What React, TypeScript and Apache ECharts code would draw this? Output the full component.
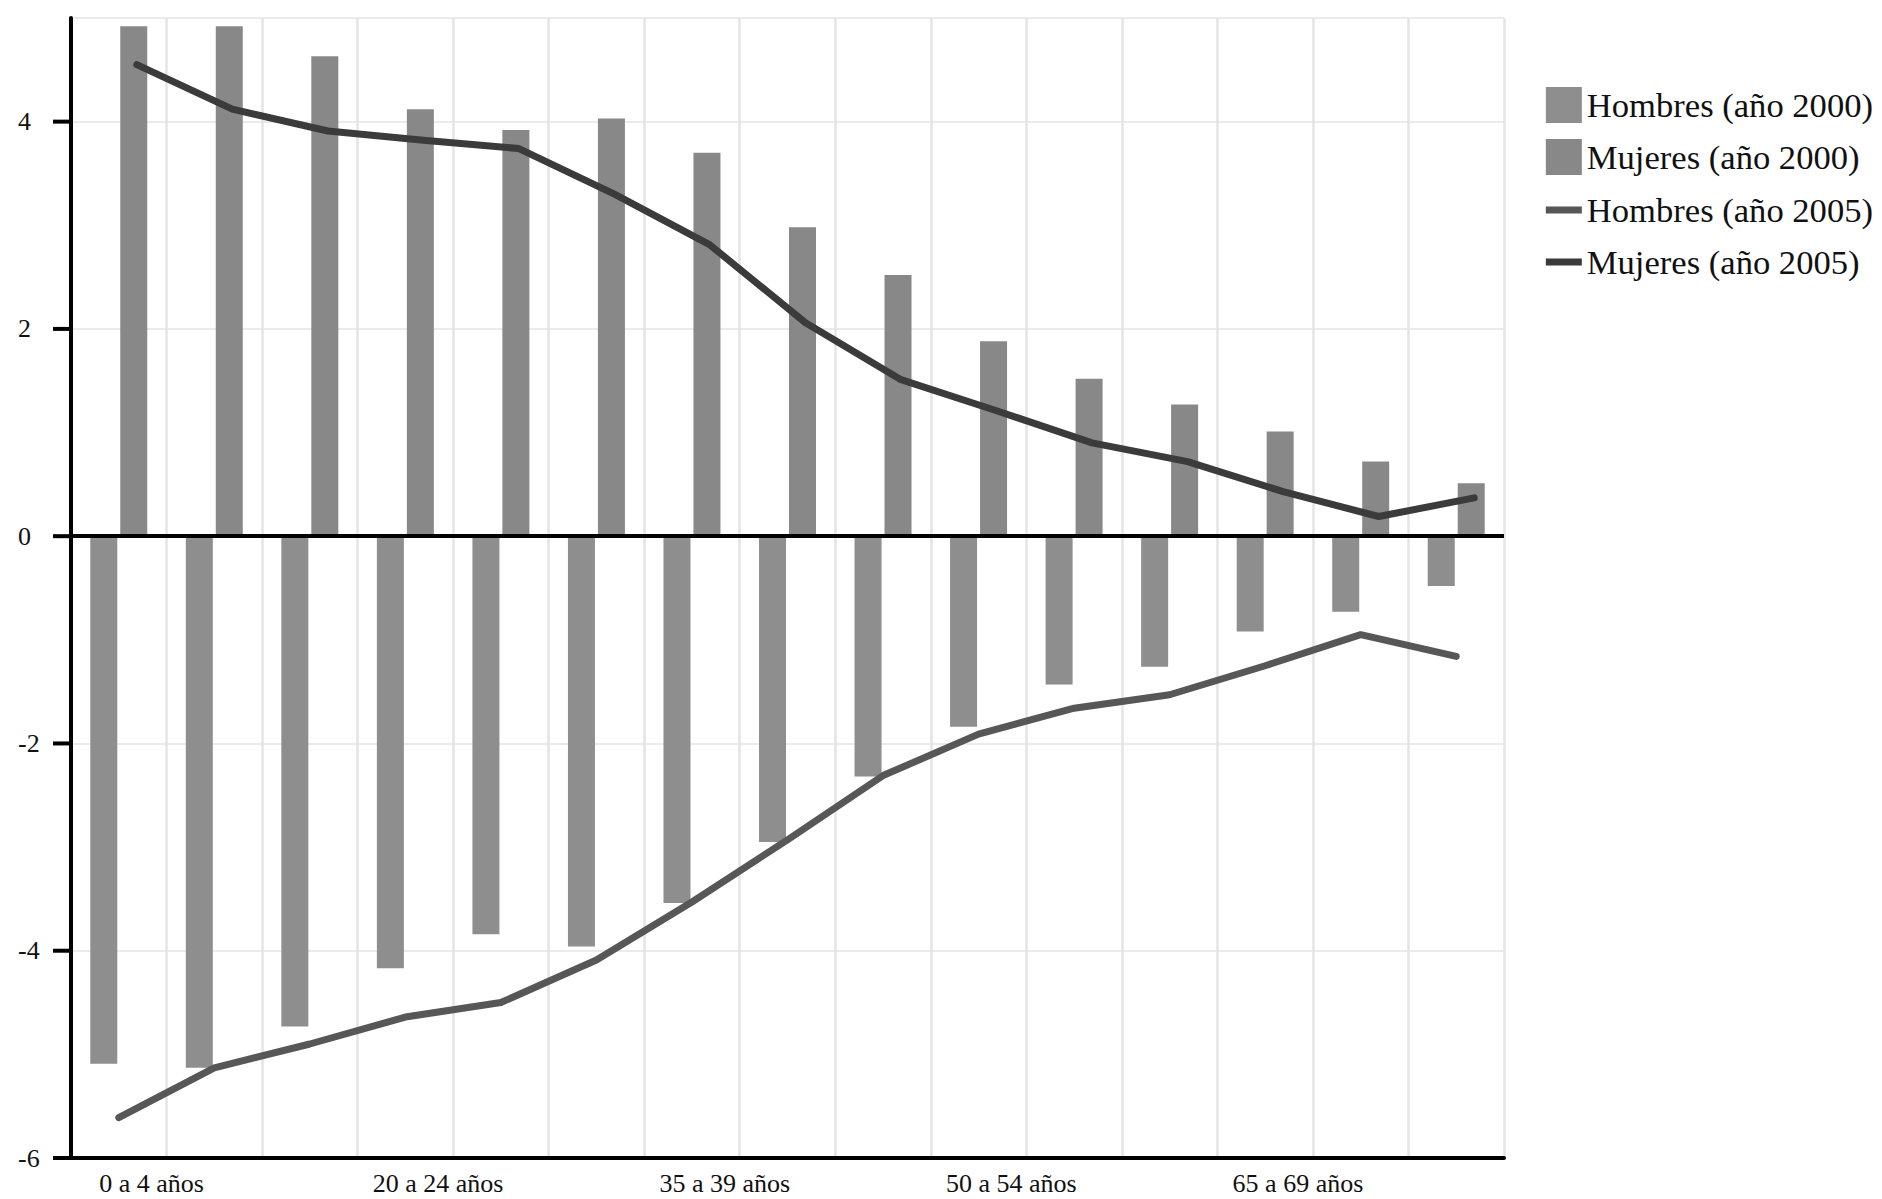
import React, { useEffect, useRef } from "react";
import * as echarts from "echarts";

const ageGroups = [
  "0 a 4 años", "5 a 9 años", "10 a 14 años", "15 a 19 años", "20 a 24 años",
  "25 a 29 años", "30 a 34 años", "35 a 39 años", "40 a 44 años", "45 a 49 años",
  "50 a 54 años", "55 a 59 años", "60 a 64 años", "65 a 69 años", "70 a 74 años",
];

const hombres2000 = [-5.09, -5.13, -4.73, -4.17, -3.84, -3.96, -3.54, -2.95, -2.32, -1.84, -1.43, -1.26, -0.92, -0.73, -0.48];
const mujeres2000 = [4.92, 4.92, 4.63, 4.12, 3.92, 4.03, 3.70, 2.98, 2.52, 1.88, 1.52, 1.27, 1.01, 0.72, 0.51];
const hombres2005 = [-5.61, -5.13, -4.90, -4.64, -4.50, -4.09, -3.53, -2.93, -2.31, -1.91, -1.66, -1.53, -1.25, -0.95, -1.16];
const mujeres2005 = [4.55, 4.12, 3.91, 3.82, 3.74, 3.30, 2.81, 2.06, 1.51, 1.21, 0.90, 0.72, 0.43, 0.19, 0.37];

const xTickLabels = ["0 a 4 años", "20 a 24 años", "35 a 39 años", "50 a 54 años", "65 a 69 años"];
const xTickSlots = [1, 4, 7, 10, 13];
const yTickValues = [-6, -4, -2, 0, 2, 4];

const seriesNames = ["Hombres (año 2000)", "Mujeres (año 2000)", "Hombres (año 2005)", "Mujeres (año 2005)"];

const FONT = "'Liberation Serif', 'DejaVu Serif', serif";
const Y_MIN = -6;
const Y_MAX = 5;
const Y_STEP = 2;
const GRID_LEFT = 71;
const TICK_LEN = 18;

export default function App() {
  const ref = useRef<HTMLDivElement>(null);
  useEffect(() => {
    if (!ref.current) return;
    const chart = echarts.init(ref.current, null, { renderer: "svg" });

    const labelAxisData: string[] = new Array(ageGroups.length + 1).fill("");
    xTickSlots.forEach((slot, i) => {
      labelAxisData[slot] = xTickLabels[i];
    });

    const legendText = { fontSize: 34.6, fontFamily: FONT, color: "#111", lineHeight: 36 };

    chart.setOption({
      animation: false,
      backgroundColor: "#fff",
      grid: [
        { left: GRID_LEFT, right: 378, top: 18, bottom: 41 },
        // same plot area, shifted so the women's 2005 line sits over the women's bars
        { left: GRID_LEFT + 18, right: 360, top: 18, bottom: 41 },
      ],
      legend: [
        {
          orient: "vertical",
          align: "left",
          right: 9,
          top: 87,
          padding: 0,
          itemWidth: 36,
          itemHeight: 36,
          itemGap: 16,
          itemTextGap: 19,
          icon: "rect",
          data: [seriesNames[0], seriesNames[1]],
          textStyle: legendText,
        },
        {
          orient: "vertical",
          align: "left",
          right: 9,
          top: 192,
          padding: 0,
          itemWidth: 36,
          itemHeight: 7,
          itemGap: 16,
          itemTextGap: 19,
          icon: "rect",
          data: [seriesNames[2], seriesNames[3]],
          textStyle: legendText,
        },
      ],
      xAxis: [
        {
          type: "category",
          gridIndex: 0,
          data: ageGroups,
          position: "bottom",
          boundaryGap: true,
          axisLine: { show: true, onZero: false, lineStyle: { color: "#000", width: 4 } },
          axisTick: { show: false },
          axisLabel: { show: false },
          splitLine: { show: true, interval: 0, lineStyle: { color: "#e4e4e4", width: 2.5 } },
        },
        {
          type: "category",
          gridIndex: 0,
          data: labelAxisData,
          position: "bottom",
          boundaryGap: false,
          axisLine: { show: false },
          axisTick: { show: false },
          splitLine: { show: false },
          axisLabel: {
            show: true,
            interval: 0,
            margin: 12,
            fontSize: 26,
            fontFamily: FONT,
            color: "#111",
            padding: [0, 30, 0, 0],
          },
        },
        {
          type: "category",
          gridIndex: 1,
          data: ageGroups,
          boundaryGap: true,
          show: false,
        },
      ],
      yAxis: [
        {
          type: "value",
          gridIndex: 0,
          position: "left",
          min: Y_MIN,
          max: Y_MAX,
          interval: Y_STEP,
          axisLine: { show: true, onZero: false, lineStyle: { color: "#000", width: 4 } },
          axisTick: { show: false },
          axisLabel: {
            show: true,
            showMaxLabel: false,
            align: "left",
            margin: 53,
            fontSize: 26,
            fontFamily: FONT,
            color: "#111",
          },
          splitLine: { show: true, lineStyle: { color: "#ebebeb", width: 2 } },
        },
        {
          type: "value",
          gridIndex: 1,
          min: Y_MIN,
          max: Y_MAX,
          interval: Y_STEP,
          show: false,
          splitLine: { show: false },
        },
      ],
      series: [
        {
          name: seriesNames[0],
          type: "bar",
          xAxisIndex: 0,
          yAxisIndex: 0,
          data: hombres2000,
          barWidth: 27,
          barGap: "11%",
          color: "#8e8e8e",
          itemStyle: { color: "#8e8e8e" },
          z: 2,
          markLine: {
            silent: true,
            symbol: ["none", "none"],
            label: { show: false },
            lineStyle: { color: "#000", width: 4, type: "solid" },
            data: [{ yAxis: 0 }],
          },
        },
        {
          name: seriesNames[1],
          type: "bar",
          xAxisIndex: 0,
          yAxisIndex: 0,
          data: mujeres2000,
          barWidth: 27,
          barGap: "11%",
          color: "#888888",
          itemStyle: { color: "#888888" },
          z: 2,
        },
        {
          name: seriesNames[2],
          type: "line",
          xAxisIndex: 0,
          yAxisIndex: 0,
          data: hombres2005,
          symbol: "none",
          color: "#575757",
          lineStyle: { color: "#575757", width: 7, cap: "round", join: "round" },
          z: 6,
        },
        {
          name: seriesNames[3],
          type: "line",
          xAxisIndex: 2,
          yAxisIndex: 1,
          data: mujeres2005,
          symbol: "none",
          color: "#3b3b3b",
          lineStyle: { color: "#3b3b3b", width: 7, cap: "round", join: "round" },
          z: 6,
        },
      ],
    });

    // y-axis tick marks, positioned through the y axis scale
    const tickGraphics = yTickValues.map((v) => {
      const y = chart.convertToPixel({ yAxisIndex: 0 }, v) as number;
      return {
        type: "rect",
        silent: true,
        z: 100,
        shape: { x: GRID_LEFT - TICK_LEN, y: y - 2, width: TICK_LEN + 2, height: 4 },
        style: { fill: "#000" },
      };
    });
    chart.setOption({ graphic: { elements: tickGraphics } });

    return () => chart.dispose();
  }, []);

  return (
    <div
      ref={ref}
      style={{ position: "absolute", left: 0, top: 0, width: 1882, height: 1199, background: "#fff" }}
    />
  );
}
